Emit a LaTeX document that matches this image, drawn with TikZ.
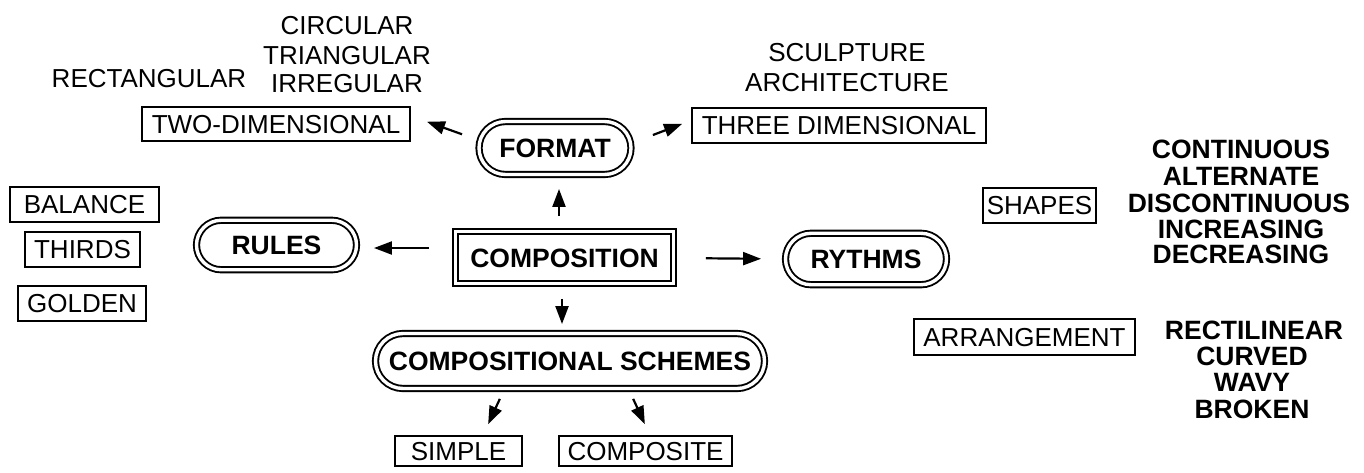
\documentclass[tikz,border=0pt]{standalone}
\usepackage{fontspec}
\setmainfont{Liberation Sans}
\usetikzlibrary{shapes.misc,arrows.meta}
\tikzset{
  txt/.style={font=\fontsize{26}{30}\selectfont, text height=18.6pt, text depth=0pt, inner sep=0pt},
  btxt/.style={font=\fontsize{26.5}{30}\selectfont\bfseries, text height=19pt, text depth=0pt, inner sep=0pt},
  box/.style={txt, draw, line width=1.9pt},
  pill/.style={btxt, rounded rectangle, draw, double, double distance=3.4pt, line width=1.9pt},
  dbox/.style={btxt, draw, double, double distance=3.4pt, line width=1.9pt},
  arr/.style={line width=2.2pt, -{Triangle[length=18pt,width=13pt]}},
}
\begin{document}
\begin{tikzpicture}[x=1pt,y=-1pt]
\useasboundingbox (0,0) rectangle (1364,472);
% top-left texts
\node[txt] (circ) at (347,25) {CIRCULAR};
\node[txt] (tri) at (347,55) {TRIANGULAR};
\node[txt] (irr) at (347,83) {IRREGULAR};
\node[txt] (rect) at (149,78) {RECTANGULAR};
\node[box, minimum width=268pt, minimum height=34pt] (two) at (276,124) {TWO-DIMENSIONAL};
% format
\node[pill, minimum width=152pt, minimum height=53pt] (format) at (555,148) {FORMAT};
\node[box, minimum width=294pt, minimum height=35pt] (three) at (839,125.5) {THREE DIMENSIONAL};
\node[txt] (sculp) at (847,52) {SCULPTURE};
\node[txt] (arch) at (847,82) {ARCHITECTURE};
% composition
\node[dbox, minimum width=218pt, minimum height=52pt] (comp) at (564.5,257.5) {COMPOSITION};
\node[pill, minimum width=160pt, minimum height=49.5pt] (rules) at (276.5,245) {RULES};
\node[pill, minimum width=161pt, minimum height=51.5pt] (ryth) at (866,259) {RYTHMS};
\node[pill, minimum width=389pt, minimum height=55pt] (schemes) at (570,361) {COMPOSITIONAL SCHEMES};
% left boxes
\node[box, minimum width=149pt, minimum height=35pt] (bal) at (84.5,204.5) {BALANCE};
\node[box, minimum width=115pt, minimum height=35pt] (thirds) at (82.5,249.5) {THIRDS};
\node[box, minimum width=128pt, minimum height=35pt] (golden) at (82,303.5) {GOLDEN};
% right
\node[box, minimum width=113pt, minimum height=35pt] (shapes) at (1039.5,205.5) {SHAPES};
\node[box, minimum width=221pt, minimum height=36pt] (arrange) at (1024.5,337) {ARRANGEMENT};
\node[btxt] (cont) at (1241,149) {CONTINUOUS};
\node[btxt] (alt) at (1241,176) {ALTERNATE};
\node[btxt] (disc) at (1239,202.5) {DISCONTINUOUS};
\node[btxt] (inc) at (1241,229) {INCREASING};
\node[btxt] (dec) at (1241,254) {DECREASING};
\node[btxt] (rectil) at (1254,330) {RECTILINEAR};
\node[btxt] (curved) at (1252,356) {CURVED};
\node[btxt] (wavy) at (1252,382) {WAVY};
\node[btxt] (broken) at (1252,409) {BROKEN};
% bottom
\node[box, minimum width=127pt, minimum height=30pt] (simple) at (458.5,451) {SIMPLE};
\node[box, minimum width=173pt, minimum height=30pt] (composite) at (645.5,451) {COMPOSITE};
% arrows
\draw[arr, shorten <=17pt, shorten >=17pt] ([yshift=8pt]format.west) -- ([yshift=8pt]two.east);
\draw[arr, shorten <=22.4pt, shorten >=9.6pt] ([yshift=5pt]format.east) -- ([yshift=5pt]three.west);
\draw[arr, shorten <=14.5pt, shorten >=13.5pt] ([xshift=-5.5pt]comp.north) -- ([xshift=4pt]format.south);
\draw[arr, shorten <=25.5pt, shorten >=16.5pt] ([yshift=9.5pt]comp.west) -- ([yshift=-3pt]rules.east);
\draw[arr, shorten <=31.5pt, shorten >=23.5pt] ([yshift=-0.5pt]comp.east) -- ([yshift=0pt]ryth.west);
\draw[arr, shorten <=14.5pt, shorten >=8.5pt] ([xshift=-2.5pt]comp.south) -- ([xshift=-8pt]schemes.north);
\draw[arr, shorten <=10.4pt, shorten >=12pt] ([xshift=-65.8pt]schemes.south) -- ([xshift=24.6pt]simple.north);
\draw[arr, shorten <=10.4pt, shorten >=12pt] ([xshift=58.8pt]schemes.south) -- ([xshift=4.4pt]composite.north);
\end{tikzpicture}
\end{document}
